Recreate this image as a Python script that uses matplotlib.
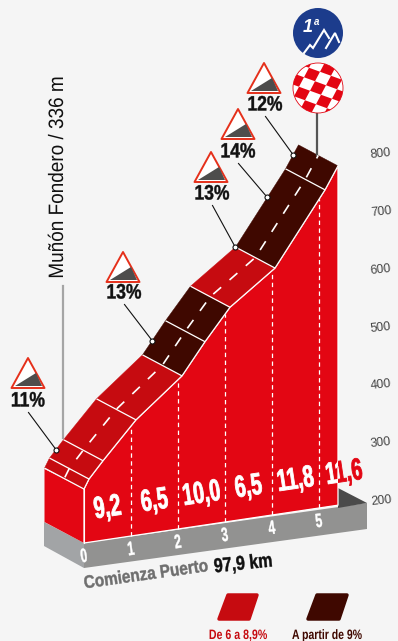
import numpy as np
import matplotlib
matplotlib.use("Agg")
import matplotlib.pyplot as plt
from matplotlib.patches import Polygon, Circle, Rectangle
from matplotlib.patheffects import AbstractPathEffect
from matplotlib.transforms import Affine2D, Bbox

KM = [0, 0.106, 0.404, 1.106, 2.085, 2.574, 3.106, 4.064, 5.128, 5.404]
ALT = [293, 309, 337, 399, 463, 516, 569, 625, 747, 785]
BAND_CLASS = ["mid", "mid", "mid", "mid", "high", "high", "mid", "high", "high"]
KM_TICKS = [0, 1, 2, 3, 4, 5]
SEG_GRADES = ["9,2", "6,5", "10,0", "6,5", "11,8", "11,6"]
ALT_TICKS = [200, 300, 400, 500, 600, 700, 800]
SIGNS = ["11%", "13%", "13%", "14%", "12%"]
SIGN_KM = [0.244, 2.29, 4.06, 4.74, 5.29]
LEGEND = ["De 6 a 8,9%", "A partir de 9%"]

BG = "#f5f5f5"
RED = "#e30613"
MID = "#c60b10"
DARK = "#3f0800"
SANS = ["Liberation Sans", "DejaVu Sans"]


class Squeeze(AbstractPathEffect):
    """Narrow the glyphs of a real text about their middle (or left end), with a slight embolden.
    If split_x is given, the part right of that pixel column is painted in split_color."""

    def __init__(self, sx, left=False, embolden=0.0, split_x=None, split_color=None):
        super().__init__()
        self.sx, self.left, self.embolden = sx, left, embolden
        self.split_x, self.split_color = split_x, split_color

    def _paint(self, renderer, gc, tpath, aff, face, clip=None):
        g = renderer.new_gc()
        g.copy_properties(gc)
        if self.embolden:
            g.set_linewidth(self.embolden)
            g.set_foreground(face)
        if clip is not None:
            g.set_clip_rectangle(clip)
        renderer.draw_path(g, tpath, aff, face)
        g.restore()

    def draw_path(self, renderer, gc, tpath, affine, rgbFace=None):
        if self.left:
            pre = Affine2D().scale(self.sx, 1)
        else:
            ext = tpath.get_extents()
            cx = (ext.x0 + ext.x1) / 2
            pre = Affine2D().translate(-cx, 0).scale(self.sx, 1).translate(cx, 0)
        aff = pre + affine
        if self.split_x is None:
            self._paint(renderer, gc, tpath, aff, rgbFace)
        else:
            self._paint(renderer, gc, tpath, aff, rgbFace, Bbox([[0, 0], [self.split_x, 641]]))
            self._paint(renderer, gc, tpath, aff, matplotlib.colors.to_rgba(self.split_color),
                        Bbox([[self.split_x, 0], [398, 641]]))


def label(x, y, s, size, sx, color, weight="bold", rot=0, left=False, embolden=0.0, **kw):
    t = ax.text(x, y, s, fontsize=size, color=color, fontweight=weight, family=SANS,
                ha="left" if left else "center", va="center", rotation=rot, rotation_mode="anchor")
    t.set_path_effects([Squeeze(sx, left, embolden, **kw)])
    return t


fig = plt.figure(figsize=(3.98, 6.41), dpi=100, facecolor=BG)
ax = fig.add_axes([0, 0, 1, 1])
ax.set_xlim(0, 398)
ax.set_ylim(641, 0)
ax.axis("off")

front = Affine2D(np.array([[47.0, 0, 84], [-7.0, -0.58, 543 + 116.0], [0, 0, 1]]))
OFF = (-39.5, -21)
back = front + Affine2D().translate(*OFF)
mid = front + Affine2D().translate(OFF[0] / 2, OFF[1] / 2)
F = front + ax.transData


def P(tf, k, a):
    return tf.transform((k, a))


km = np.array(KM)
alt = np.array(ALT)
base = 200.0
END = KM[-1]

# base slab
ax.add_patch(Polygon([(44, 522), (84, 543), (84, 568), (44, 546)], fc="#a2a4a6", ec="none"))
ax.add_patch(Polygon([(84, 543), (367, 503), (367, 529), (84, 568)], fc="#929291", ec="none"))
ax.add_patch(Polygon([(338, 488), (367, 503), (338, 508)], fc="#4a4a4a", ec="none"))

# left wall + front wall
ax.add_patch(Polygon([(44.5, 469), (84, 489), (84, 543), (44.5, 522)], fc=RED, ec="none"))
x_f = np.r_[km, END, 0]
y_f = np.r_[alt, base, base]
ax.add_patch(Polygon(np.c_[x_f, y_f], transform=F, fc=RED, ec="white", lw=0.9, joinstyle="round"))
ax.plot([0, 0], [base, alt[0]], transform=F, color="white", lw=0.8)

# road bands
for i, c in enumerate(BAND_CLASS):
    col = MID if c == "mid" else DARK
    k0, k1 = KM[i], KM[i + 1]
    a0, a1 = ALT[i], ALT[i + 1]
    pts = [P(front, k0, a0), P(front, k1, a1), P(back, k1, a1), P(back, k0, a0)]
    ax.add_patch(Polygon(pts, fc=col, ec=col, lw=0.3))

# cross lines
for k, a in zip(KM[:-1], ALT[:-1]):
    p, q = P(front, k, a), P(back, k, a)
    ax.plot([p[0], q[0]], [p[1], q[1]], color="white", lw=0.9, solid_capstyle="butt")
ax.plot(km, alt, transform=F, color="white", lw=0.9)

# center dashes
mm = np.array([P(mid, k, a) for k, a in zip(KM, ALT)])
ax.plot(mm[:, 0], mm[:, 1], color="white", lw=1.2, linestyle=(12.1, (6.25, 6.67)), zorder=4)

# km dashed verticals
for k in KM_TICKS[1:]:
    top = np.interp(k, km, alt)
    ax.plot([k, k], [base, top], transform=F, color="white", lw=0.9, dashes=(3.5, 2.8))

# km labels
for k in KM_TICKS:
    x, y = P(front, k, base)
    label(x, y + 14.5, str(k), 14, 0.62, "white", rot=8, embolden=0.3)

# grade labels
for k, g in zip(KM_TICKS, SEG_GRADES):
    x, y = P(front, k + 0.5, base)
    if k < 5:
        label(x, y - 31, g, 22, 0.64, "white", rot=8.5, embolden=0.6)
    else:
        label(x + 1.5, y - 31, g, 22, 0.64, "white", rot=8.5, embolden=0.6, split_x=338, split_color=RED)

# altitude ticks
for a in ALT_TICKS:
    ax.text(381, 501 - (a - 200) * 0.578, str(a), fontsize=9, color="#444444", family=SANS,
            ha="center", va="center", rotation=6, rotation_mode="anchor")

# start label
label(84, 584, "Comienza Puerto", 13, 0.85, "#6f6f6f", rot=8, left=True, embolden=0.3)
label(214, 567, "97,9 km", 14.4, 0.8, "#111111", rot=6, left=True, embolden=0.3)

# summit pole and marks
ax.plot([317, 317], [113, 155], color="#555555", lw=1.6, zorder=1)
ax.add_patch(Circle((318, 33), 25, fc="#1c3c8c", ec="none"))
ax.plot([304, 310, 313, 324, 329], [53, 45, 48, 30, 38], color="white", lw=1.5, solid_joinstyle="miter")
ax.plot([326, 335, 339], [48, 33, 42], color="white", lw=1.5, solid_joinstyle="miter")
ax.text(307.5, 28, "1", color="white", fontsize=13, fontweight="bold", fontstyle="italic", family=SANS, ha="center", va="center")
ax.text(316.5, 22, "a", color="white", fontsize=7, fontweight="bold", fontstyle="italic", family=SANS, ha="center", va="center")

clip = Circle((318, 88), 25, fc="white", ec=RED, lw=0.6, transform=ax.transData)
ax.add_patch(clip)
U, V = (11.0, 4.0), (5.0, -9.5)
tr = Affine2D(np.array([[U[0], V[0], 318], [U[1], V[1], 88], [0, 0, 1]])) + ax.transData
for i in range(-4, 5):
    for j in range(-4, 5):
        if (i + j) % 2 == 0:
            r = Rectangle((i - 0.5, j - 0.5), 1, 1, fc=RED, ec="none", transform=tr)
            ax.add_patch(r)
            r.set_clip_path(clip)

# Muñón
label(57.5, 177, "Muñón Fondero / 336 m", 15, 0.91, "#111111", weight="normal", rot=90)
ax.plot([63, 63], [286, 438], color="#a5a5a5", lw=1.6, zorder=1)


def sign(apex_x, apex_y, text, lab_x, lab_y, target):
    w, h = 16.5, 29
    ax.add_patch(Polygon([(apex_x, apex_y), (apex_x + w, apex_y + h + 1), (apex_x - w, apex_y + h + 1)],
                         fc="white", ec="#e5301b", lw=1.4, joinstyle="round"))
    ax.add_patch(Polygon([(apex_x - 13, apex_y + h - 1), (apex_x + 8, apex_y + 15), (apex_x + 14, apex_y + h - 1)],
                         fc="#4e4d4c", ec="none"))
    label(lab_x, lab_y, text, 15, 0.84, "#111111", embolden=0.3)
    ax.plot([lab_x + 0.5, target[0]], [lab_y + 11.5, target[1]], color="#111111", lw=0.8, zorder=5)
    ax.plot(*target, "o", ms=3.6, mfc="white", mec="#111111", mew=0.8, zorder=6)


SIGN_POS = [(28, 358, 28, 401), (123, 252, 124, 293), (211, 152, 212, 194), (238, 109, 238, 152), (264, 63, 265, 105)]
for lab, k, (ax_, ay_, lx, ly) in zip(SIGNS, SIGN_KM, SIGN_POS):
    sign(ax_, ay_, lab, lx, ly, tuple(P(back, k, np.interp(k, km, alt))))

# legend
ax.add_patch(Polygon([(219, 619), (228, 595), (257, 595), (249, 619)], fc=MID, ec=MID, lw=2.5, joinstyle="round"))
ax.add_patch(Polygon([(308, 619), (317, 595), (347, 595), (339, 619)], fc=DARK, ec=DARK, lw=2.5, joinstyle="round"))
label(238, 635, LEGEND[0], 9.8, 0.78, MID)
label(327, 635, LEGEND[1], 9.8, 0.77, DARK)

fig.savefig("out.png", dpi=100, facecolor=BG)
